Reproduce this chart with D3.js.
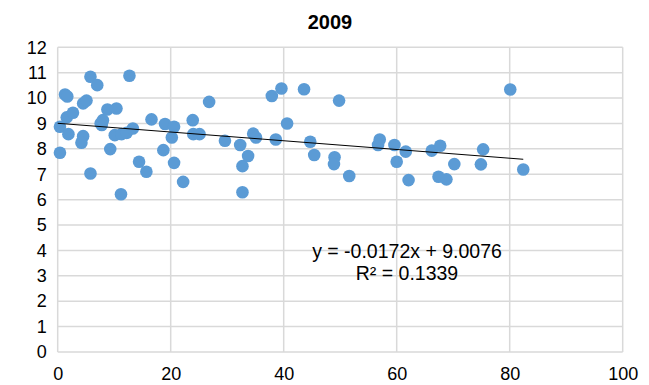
<!DOCTYPE html>
<html><head><meta charset="utf-8">
<script src="https://cdn.jsdelivr.net/npm/d3@7"></script>
<style>body{margin:0;background:#fff}svg{display:block}</style>
</head><body>
<script>
const titleText = "2009";
const xVals = [0.4,0.4,1.3,1.7,1.6,1.9,2.7,4.5,5.1,4.5,4.2,5.8,7.0,5.8,8.0,7.8,7.6,8.8,10.4,9.3,10.1,11.3,12.2,13.3,12.7,11.2,14.4,15.7,16.6,18.7,19.0,20.6,20.2,20.6,22.2,23.9,24.0,25.1,26.8,29.6,32.3,32.7,32.7,33.7,34.6,35.1,37.9,39.6,38.6,40.6,43.6,44.7,45.4,49.8,49.0,48.9,51.6,57.0,56.7,59.6,60.0,61.6,62.1,66.2,67.7,67.4,68.8,70.2,74.9,75.3,80.1,82.4];
const yVals = [8.87,7.85,10.14,10.06,9.24,8.58,9.42,9.79,9.9,8.5,8.24,10.84,10.51,7.03,9.13,8.94,9.0,9.55,9.59,7.99,8.54,8.58,8.63,8.8,10.88,6.21,7.49,7.1,9.16,7.95,8.98,8.87,8.45,7.45,6.7,9.13,8.58,8.58,9.85,8.32,8.15,7.32,6.29,7.72,8.6,8.45,10.08,10.38,8.37,9.0,10.35,8.28,7.76,9.9,7.67,7.4,6.93,8.37,8.15,8.15,7.49,7.89,6.77,7.93,8.12,6.9,6.8,7.4,7.39,7.98,10.34,7.19];
const xTicks = [0,20,40,60,80,100];
const yTicks = [0,1,2,3,4,5,6,7,8,9,10,11,12];
const slope = -0.0172, intercept = 9.0076;
const eqLines = ["y = -0.0172x + 9.0076", "R² = 0.1339"];

const W = 649, H = 385;
const svg = d3.select("body").append("svg").attr("width", W).attr("height", H);
const x = d3.scaleLinear().domain([0,100]).range([57.7,622.7]);
const y = d3.scaleLinear().domain([0,12]).range([352,47.3]);
const font = "'Liberation Sans', Arial, sans-serif";

// gridlines
svg.append("g").selectAll("line").data(yTicks).join("line")
  .attr("x1", x(0)).attr("x2", x(100)).attr("y1", d=>y(d)).attr("y2", d=>y(d))
  .attr("stroke", "#d9d9d9").attr("stroke-width", 1.5);
svg.append("g").selectAll("line").data(xTicks).join("line")
  .attr("y1", y(0)).attr("y2", y(12)).attr("x1", d=>x(d)).attr("x2", d=>x(d))
  .attr("stroke", "#d9d9d9").attr("stroke-width", 1.5);

// axes labels
const yAxis = svg.append("g").attr("transform", `translate(${x(0)},0)`)
  .call(d3.axisLeft(y).tickValues(yTicks).tickSize(0).tickPadding(11));
yAxis.select(".domain").remove();
yAxis.selectAll("text").attr("font-family", font).attr("font-size", "18px").attr("fill", "#000");
const xAxis = svg.append("g").attr("transform", `translate(0,${y(0)})`)
  .call(d3.axisBottom(x).tickValues(xTicks).tickSize(0).tickPadding(15));
xAxis.select(".domain").remove();
xAxis.selectAll("text").attr("font-family", font).attr("font-size", "18px").attr("fill", "#000");

// points
const pts = xVals.map((v,i)=>({x:v, y:yVals[i]}));
svg.append("g").selectAll("circle").data(pts).join("circle")
  .attr("cx", d=>x(d.x)).attr("cy", d=>y(d.y)).attr("r", 6.3)
  .attr("fill", "#5b9bd5");

// trendline
const xMax = d3.max(xVals);
svg.append("line")
  .attr("x1", x(0)).attr("y1", y(intercept))
  .attr("x2", x(xMax)).attr("y2", y(slope*xMax + intercept))
  .attr("stroke", "#000").attr("stroke-width", 1);

// equation
svg.append("g").selectAll("text").data(eqLines).join("text")
  .attr("x", 407).attr("y", (d,i)=>258 + i*22)
  .attr("text-anchor", "middle").attr("font-family", font).attr("font-size", "19.5px")
  .attr("fill", "#000").text(d=>d);

// title
svg.append("text").attr("x", 330).attr("y", 29).attr("text-anchor", "middle")
  .attr("font-family", font).attr("font-size", "20px").attr("font-weight", "bold").text(titleText);
</script>
</body></html>
